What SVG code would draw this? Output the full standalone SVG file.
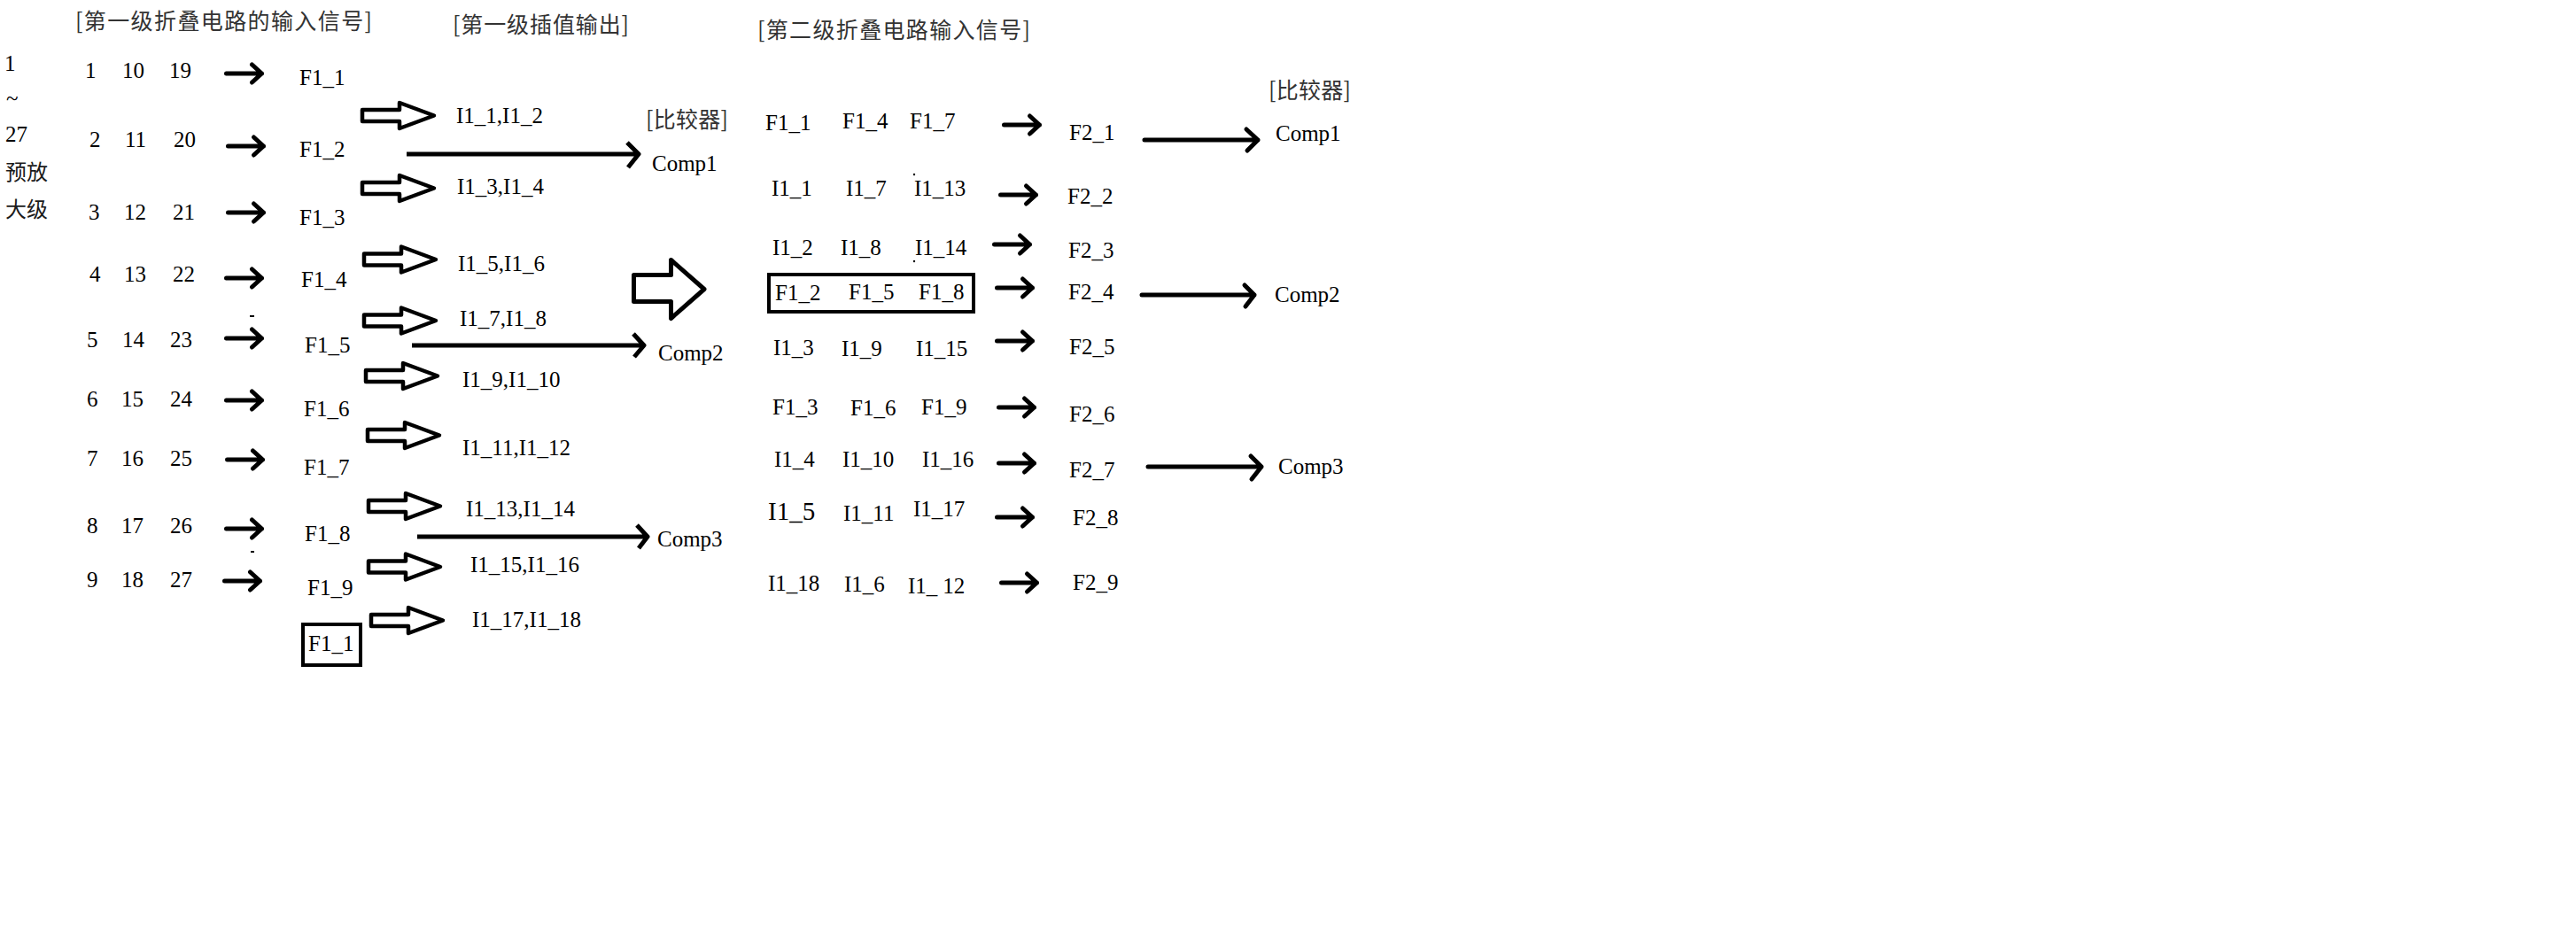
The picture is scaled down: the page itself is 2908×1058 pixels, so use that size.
<svg xmlns="http://www.w3.org/2000/svg" xmlns:xlink="http://www.w3.org/1999/xlink" width="2908" height="1058" viewBox="0 0 2908 1058">
<style>
.t{font-family:"Liberation Serif","Times New Roman",serif;font-size:25px;fill:#000}
.cjk{font-family:"Noto Sans CJK SC","Noto Sans",sans-serif;font-size:25px;fill:#333}
.cjkd{font-family:"Noto Sans CJK SC","Noto Sans",sans-serif;font-size:24px;fill:#1a1a1a}
.ln{fill:none;stroke:#000;stroke-width:5;stroke-linecap:round;stroke-linejoin:round}
.lf{fill:none;stroke:#000;stroke-width:5;stroke-linecap:butt;stroke-linejoin:round}
.blk{fill:#fff;stroke:#000;stroke-width:4.5;stroke-linejoin:round}
.box{fill:none;stroke:#000;stroke-width:4}
.mk{fill:#000}
</style>
<defs>
<path id="sa" class="ln" d="M-40 0H0M-11 -10L0 0L-11 10"/>
<path id="ba" class="blk" d="M2 -6.5H44V-14.5L83 0L44 14.5V6.5H2Z"/>
</defs>
<rect width="2908" height="1058" fill="#fff"/>

<g id="titles">
<text class="cjk" x="85" y="33" textLength="335" lengthAdjust="spacing">[第一级折叠电路的输入信号]</text>
<text class="cjk" x="511" y="37" textLength="199" lengthAdjust="spacing">[第一级插值输出]</text>
<text class="cjk" x="855" y="43" textLength="308" lengthAdjust="spacing">[第二级折叠电路输入信号]</text>
<text class="cjk" x="729" y="144" textLength="93" lengthAdjust="spacing">[比较器]</text>
<text class="cjk" x="1432" y="111" textLength="93" lengthAdjust="spacing">[比较器]</text>
</g>

<g id="preamp">
<text class="t" x="5" y="80">1</text>
<text class="t" x="7" y="119">~</text>
<text class="t" x="6" y="160">27</text>
<text class="cjkd" x="6" y="203">预放</text>
<text class="cjkd" x="6" y="245">大级</text>
</g>

<g id="inputs">
<g id="in1"><text class="t" x="96" y="88">1</text><text class="t" x="138" y="88">10</text><text class="t" x="191" y="88">19</text></g>
<g id="in2"><text class="t" x="101" y="166">2</text><text class="t" x="141" y="166">11</text><text class="t" x="196" y="166">20</text></g>
<g id="in3"><text class="t" x="100" y="248">3</text><text class="t" x="140" y="248">12</text><text class="t" x="195" y="248">21</text></g>
<g id="in4"><text class="t" x="101" y="318">4</text><text class="t" x="140" y="318">13</text><text class="t" x="195" y="318">22</text></g>
<g id="in5"><text class="t" x="98" y="392">5</text><text class="t" x="138" y="392">14</text><text class="t" x="192" y="392">23</text></g>
<g id="in6"><text class="t" x="98" y="459">6</text><text class="t" x="137" y="459">15</text><text class="t" x="192" y="459">24</text></g>
<g id="in7"><text class="t" x="98" y="526">7</text><text class="t" x="137" y="526">16</text><text class="t" x="192" y="526">25</text></g>
<g id="in8"><text class="t" x="98" y="602">8</text><text class="t" x="137" y="602">17</text><text class="t" x="192" y="602">26</text></g>
<g id="in9"><text class="t" x="98" y="663">9</text><text class="t" x="137" y="663">18</text><text class="t" x="192" y="663">27</text></g>
</g>

<g id="fold1">
<g id="F1_1"><text class="t" x="338" y="96">F1_1</text></g>
<g id="F1_2"><text class="t" x="338" y="177">F1_2</text></g>
<g id="F1_3"><text class="t" x="338" y="254">F1_3</text></g>
<g id="F1_4"><text class="t" x="340" y="324">F1_4</text></g>
<g id="F1_5"><text class="t" x="344" y="398">F1_5</text></g>
<g id="F1_6"><text class="t" x="343" y="470">F1_6</text></g>
<g id="F1_7"><text class="t" x="343" y="536">F1_7</text></g>
<g id="F1_8"><text class="t" x="344" y="611">F1_8</text></g>
<g id="F1_9"><text class="t" x="347" y="672">F1_9</text></g>
<g id="F1_1b"><rect class="box" x="342" y="705" width="65" height="46"/><text class="t" x="348" y="735">F1_1</text></g>
</g>

<g id="interp1">
<g id="I1_1_2"><text class="t" x="515" y="139">I1_1,I1_2</text></g>
<g id="I1_3_4"><text class="t" x="516" y="219">I1_3,I1_4</text></g>
<g id="I1_5_6"><text class="t" x="517" y="306">I1_5,I1_6</text></g>
<g id="I1_7_8"><text class="t" x="519" y="368">I1_7,I1_8</text></g>
<g id="I1_9_10"><text class="t" x="522" y="437">I1_9,I1_10</text></g>
<g id="I1_11_12"><text class="t" x="522" y="514">I1_11,I1_12</text></g>
<g id="I1_13_14"><text class="t" x="526" y="583">I1_13,I1_14</text></g>
<g id="I1_15_16"><text class="t" x="531" y="646">I1_15,I1_16</text></g>
<g id="I1_17_18"><text class="t" x="533" y="708">I1_17,I1_18</text></g>
</g>

<g id="comp1stage">
<g id="Comp1a"><text class="t" x="736" y="193">Comp1</text></g>
<g id="Comp2a"><text class="t" x="743" y="407">Comp2</text></g>
<g id="Comp3a"><text class="t" x="742" y="617">Comp3</text></g>
</g>

<g id="fold2in">
<g id="r1"><text class="t" x="864" y="147">F1_1</text><text class="t" x="951" y="145">F1_4</text><text class="t" x="1027" y="145">F1_7</text></g>
<g id="r2"><text class="t" x="871" y="221">I1_1</text><text class="t" x="955" y="221">I1_7</text><text class="t" x="1032" y="221">I1_13</text></g>
<g id="r3"><text class="t" x="872" y="288">I1_2</text><text class="t" x="949" y="288">I1_8</text><text class="t" x="1033" y="288">I1_14</text></g>
<g id="r4"><rect class="box" x="868" y="310" width="231" height="42"/><text class="t" x="875" y="339">F1_2</text><text class="t" x="958" y="338">F1_5</text><text class="t" x="1037" y="338">F1_8</text></g>
<g id="r5"><text class="t" x="873" y="401">I1_3</text><text class="t" x="950" y="402">I1_9</text><text class="t" x="1034" y="402">I1_15</text></g>
<g id="r6"><text class="t" x="872" y="468">F1_3</text><text class="t" x="960" y="469">F1_6</text><text class="t" x="1040" y="468">F1_9</text></g>
<g id="r7"><text class="t" x="874" y="527">I1_4</text><text class="t" x="951" y="527">I1_10</text><text class="t" x="1041" y="527">I1_16</text></g>
<g id="r8"><text class="t" x="867" y="587" style="font-size:29px">I1_5</text><text class="t" x="952" y="588">I1_11</text><text class="t" x="1031" y="583">I1_17</text></g>
<g id="r9"><text class="t" x="867" y="667">I1_18</text><text class="t" x="953" y="668">I1_6</text><text class="t" x="1025" y="670">I1_<tspan dx="6">12</tspan></text></g>
</g>

<g id="fold2out">
<g id="F2_1"><text class="t" x="1207" y="158">F2_1</text></g>
<g id="F2_2"><text class="t" x="1205" y="230">F2_2</text></g>
<g id="F2_3"><text class="t" x="1206" y="291">F2_3</text></g>
<g id="F2_4"><text class="t" x="1206" y="338">F2_4</text></g>
<g id="F2_5"><text class="t" x="1207" y="400">F2_5</text></g>
<g id="F2_6"><text class="t" x="1207" y="476">F2_6</text></g>
<g id="F2_7"><text class="t" x="1207" y="539">F2_7</text></g>
<g id="F2_8"><text class="t" x="1211" y="593">F2_8</text></g>
<g id="F2_9"><text class="t" x="1211" y="666">F2_9</text></g>
</g>

<g id="comp2stage">
<g id="Comp1b"><text class="t" x="1440" y="159">Comp1</text></g>
<g id="Comp2b"><text class="t" x="1439" y="341">Comp2</text></g>
<g id="Comp3b"><text class="t" x="1443" y="535">Comp3</text></g>
</g>

<g id="connectors">
<use xlink:href="#sa" x="295.5" y="83"/>
<use xlink:href="#sa" x="297.5" y="165"/>
<use xlink:href="#sa" x="297.5" y="240"/>
<use xlink:href="#sa" x="295.5" y="314"/>
<use xlink:href="#sa" x="295.5" y="382"/>
<use xlink:href="#sa" x="295.5" y="452"/>
<use xlink:href="#sa" x="296.5" y="519"/>
<use xlink:href="#sa" x="295.5" y="597"/>
<use xlink:href="#sa" x="293.5" y="656"/>

<use xlink:href="#ba" x="407" y="130.5"/>
<use xlink:href="#ba" x="407" y="212.5"/>
<use xlink:href="#ba" x="409" y="293"/>
<use xlink:href="#ba" x="409" y="362"/>
<use xlink:href="#ba" x="411" y="424.5"/>
<use xlink:href="#ba" x="413" y="491.5"/>
<use xlink:href="#ba" x="414" y="571.5"/>
<use xlink:href="#ba" x="414" y="640"/>
<use xlink:href="#ba" x="417" y="700.5"/>

<path class="lf" d="M459 174H721M708 161L721 174L709 189"/>
<path class="lf" d="M465 390H727M715 377L727 390L716 403"/>
<path class="lf" d="M471 606H731M719 593L731 606L721 619"/>

<path d="M715.5 310.5H757.5V293.5L795 326.5L757.5 359.5V340.5H715.5Z" fill="#fff" stroke="#000" stroke-width="5" stroke-linejoin="round"/>

<use xlink:href="#sa" x="1173.5" y="141"/>
<use xlink:href="#sa" x="1169.5" y="220"/>
<use xlink:href="#sa" x="1162.5" y="276"/>
<use xlink:href="#sa" x="1165.5" y="325"/>
<use xlink:href="#sa" x="1165.5" y="385"/>
<use xlink:href="#sa" x="1167.5" y="460"/>
<use xlink:href="#sa" x="1167.5" y="523"/>
<use xlink:href="#sa" x="1165.5" y="584"/>
<use xlink:href="#sa" x="1170.5" y="658"/>

<path class="ln" d="M1292 158H1420M1407 146L1420 158L1408 170"/>
<path class="ln" d="M1289 333H1416M1405 322L1416 333L1406 346"/>
<path class="ln" d="M1296 527H1424M1412 515L1424 527L1413 541"/>
</g>

<g id="marks">
<rect class="mk" x="282" y="356" width="5" height="2"/>
<rect class="mk" x="283" y="622" width="4" height="2"/>
<circle class="mk" cx="1032" cy="197" r="1.2"/>
<circle class="mk" cx="1032" cy="295" r="1.2"/>
</g>
</svg>
